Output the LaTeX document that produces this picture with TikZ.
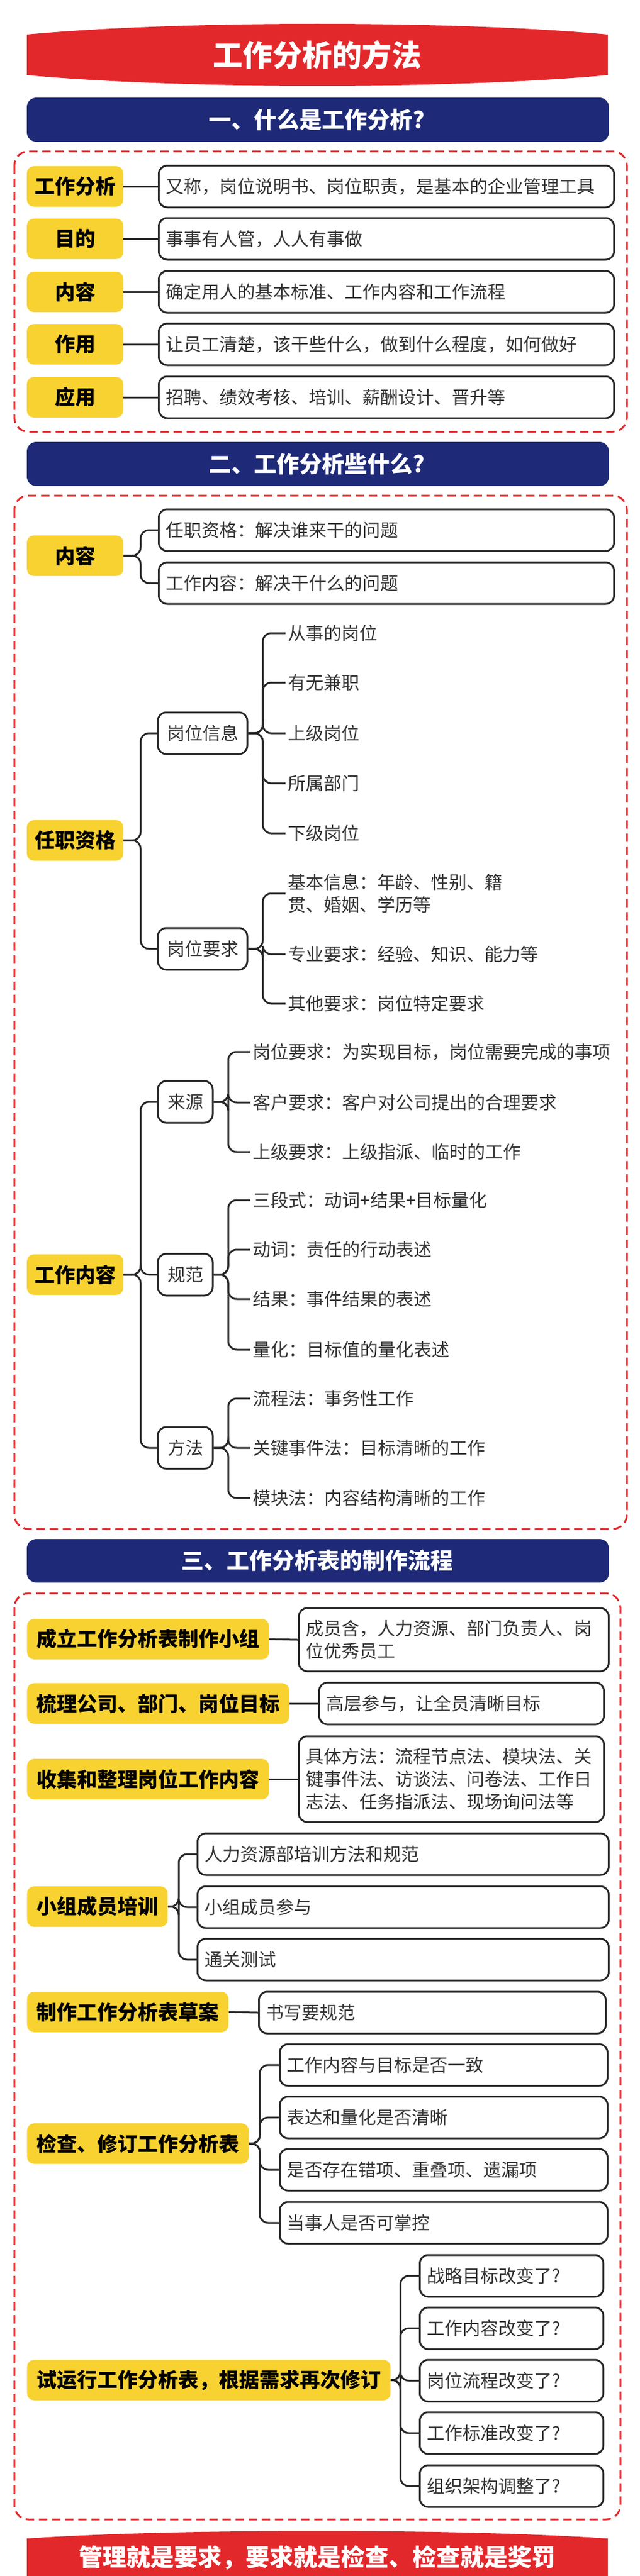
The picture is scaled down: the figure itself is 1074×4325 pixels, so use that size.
\documentclass[tikz,border=0pt]{standalone}
\usepackage{fontspec}
\setmainfont{Noto Sans CJK SC}
\usetikzlibrary{positioning}

\definecolor{bannerred}{HTML}{E3282C}
\definecolor{bannerblue}{HTML}{1E2A78}
\definecolor{tagyellow}{HTML}{F8D231}
\definecolor{inkgray}{HTML}{333333}

\tikzset{
  x=0.5pt, y=-0.5pt,
  banner/.style={font=\bfseries\fontsize{19pt}{23pt}\selectfont, text=white},
  tag/.style={fill=tagyellow, rounded corners=6pt, text=black,
    font=\bfseries\fontsize{17pt}{21pt}\selectfont, minimum height=34pt, inner xsep=8pt},
  wbox/.style={draw=black!85, line width=1.5pt, fill=white, rounded corners=7pt,
    anchor=west, align=left, text=inkgray, inner xsep=6pt, minimum height=35pt,
    font=\fontsize{15pt}{19pt}\selectfont},
  sbox/.style={wbox, anchor=center, align=center},
  leaf/.style={anchor=west, align=left, text=inkgray, inner xsep=2pt,
    font=\fontsize{15pt}{19pt}\selectfont},
  conn/.style={draw=black!85, line width=1.5pt, rounded corners=7pt},
  frame/.style={draw=bannerred, line width=1.5pt, dash pattern=on 7pt off 4pt,
    rounded corners=12pt}
}

\begin{document}
\begin{tikzpicture}
\useasboundingbox[fill=white] (0,0) rectangle (1074,4325);

% title banners
\fill[bannerred] (45,58) .. controls (300,34) and (765,34) .. (1020,58)
  -- (1020,126) .. controls (765,150) and (300,150) .. (45,126) -- cycle;
\node[banner, font=\bfseries\fontsize{25pt}{30pt}\selectfont] (title) at (532,92) {工作分析的方法};
\fill[bannerred] (45,4262) .. controls (300,4245) and (765,4245) .. (1020,4262)
  -- (1020,4340) -- (45,4340) -- cycle;
\node[banner, font=\bfseries\fontsize{20pt}{24pt}\selectfont] (motto) at (532,4294) {管理就是要求，要求就是检查、检查就是奖罚};

\fill[bannerblue, rounded corners=8pt] (45,164) rectangle (1022,238);
\node[banner] (sec1) at (532,201) {一、什么是工作分析?};
\fill[bannerblue, rounded corners=8pt] (45,742) rectangle (1022,816);
\node[banner] (sec2) at (532,779) {二、工作分析些什么?};
\fill[bannerblue, rounded corners=8pt] (45,2584) rectangle (1022,2657);
\node[banner] (sec3) at (532,2620) {三、工作分析表的制作流程};

\draw[frame] (24,254) rectangle (1052,725);
\draw[frame] (24,832) rectangle (1052,2567);
\draw[frame] (24,2675) rectangle (1041,4230);

% section 1
\foreach \t/\d/\y [count=\i] in {
    工作分析/又称，岗位说明书、岗位职责，是基本的企业管理工具/313,
    目的/事事有人管，人人有事做/401,
    内容/确定用人的基本标准、工作内容和工作流程/490,
    作用/让员工清楚，该干些什么，做到什么程度，如何做好/578,
    应用/招聘、绩效考核、培训、薪酬设计、晋升等/667} {
  \node[tag, minimum width=81pt, inner xsep=0pt] (q\i) at (126,\y) {\t};
  \node[wbox, minimum width=382pt, text width=370pt] (a\i) at (265,\y) {\d};
  \draw[conn] (q\i.east) -- (a\i.west);
}

% section 2
\coordinate (trunk) at (236,0);
\coordinate (twig) at (441,0);
\coordinate (twigb) at (383,0);
\node[tag, minimum width=81pt, inner xsep=0pt] (nr) at (126,933) {内容};
\node[wbox, minimum width=382pt, text width=370pt] (nr1) at (265,890) {任职资格：解决谁来干的问题};
\node[wbox, minimum width=382pt, text width=370pt] (nr2) at (265,979) {工作内容：解决干什么的问题};
\foreach \c in {nr1,nr2} \draw[conn] (nr.east) -- (nr.east -| trunk) |- (\c.west);

\node[tag, minimum width=81pt, inner xsep=0pt] (rz) at (126,1411) {任职资格};
\node[sbox, minimum width=75pt, inner xsep=0pt] (gx) at (340,1231) {岗位信息};
\node[sbox, minimum width=75pt, inner xsep=0pt] (gy) at (340,1593) {岗位要求};
\foreach \c in {gx,gy} \draw[conn] (rz.east) -- (rz.east -| trunk) |- (\c.west);
\foreach \t/\y [count=\i] in {从事的岗位/1063, 有无兼职/1146, 上级岗位/1231, 所属部门/1315, 下级岗位/1399} {
  \node[leaf] (gx\i) at (479,\y) {\t};
  \draw[conn] (gx.east) -- (gx.east -| twig) |- (gx\i.west);
}
\node[leaf] (gy1) at (479,1500) {基本信息：年龄、性别、籍\\贯、婚姻、学历等};
\node[leaf] (gy2) at (479,1602) {专业要求：经验、知识、能力等};
\node[leaf] (gy3) at (479,1685) {其他要求：岗位特定要求};
\foreach \c in {gy1,gy2,gy3} \draw[conn] (gy.east) -- (gy.east -| twig) |- (\c.west);

\node[tag, minimum width=81pt, inner xsep=0pt] (gn) at (126,2140) {工作内容};
\foreach \n/\t/\y in {ly/来源/1850, gf/规范/2140, ff/方法/2431} {
  \node[sbox, minimum width=46pt, inner xsep=0pt] (\n) at (311,\y) {\t};
  \draw[conn] (gn.east) -- (gn.east -| trunk) |- (\n.west);
}
\foreach \p/\t/\y [count=\i] in {
    ly/岗位要求：为实现目标，岗位需要完成的事项/1766,
    ly/客户要求：客户对公司提出的合理要求/1851,
    ly/上级要求：上级指派、临时的工作/1934,
    gf/三段式：动词+结果+目标量化/2015,
    gf/动词：责任的行动表述/2098,
    gf/结果：事件结果的表述/2181,
    gf/量化：目标值的量化表述/2266,
    ff/流程法：事务性工作/2348,
    ff/关键事件法：目标清晰的工作/2431,
    ff/模块法：内容结构清晰的工作/2515} {
  \node[leaf] (s\i) at (420,\y) {\t};
  \draw[conn] (\p.east) -- (\p.east -| twigb) |- (s\i.west);
}

% section 3
\node[tag, anchor=west] (p1) at (45,2752) {成立工作分析表制作小组};
\node[wbox, minimum width=260pt, text width=248pt, minimum height=53pt] (p1a) at (500,2753)
  {成员含，人力资源、部门负责人、岗\\位优秀员工};
\draw[conn] (p1.east) -- (p1a.west);

\node[tag, anchor=west] (p2) at (45,2860) {梳理公司、部门、岗位目标};
\node[wbox, minimum width=239pt, text width=227pt] (p2a) at (534,2860) {高层参与，让全员清晰目标};
\draw[conn] (p2.east) -- (p2a.west);

\node[tag, anchor=west] (p3) at (45,2987) {收集和整理岗位工作内容};
\node[wbox, minimum width=256pt, text width=244pt, minimum height=72pt] (p3a) at (500,2987)
  {具体方法：流程节点法、模块法、关\\键事件法、访谈法、问卷法、工作日\\志法、任务指派法、现场询问法等};
\draw[conn] (p3.east) -- (p3a.west);

\coordinate (fork4) at (300,0);
\node[tag, anchor=west] (p4) at (45,3201) {小组成员培训};
\foreach \t/\y [count=\i] in {人力资源部培训方法和规范/3113, 小组成员参与/3202, 通关测试/3290} {
  \node[wbox, minimum width=345pt, text width=333pt] (p4\i) at (330,\y) {\t};
  \draw[conn] (p4.east) -- (p4.east -| fork4) |- (p4\i.west);
}

\node[tag, anchor=west] (p5) at (45,3378) {制作工作分析表草案};
\node[wbox, minimum width=291pt, text width=279pt] (p5a) at (433,3379) {书写要规范};
\draw[conn] (p5.east) -- (p5a.west);

\coordinate (fork6) at (436,0);
\node[tag, anchor=west] (p6) at (45,3599) {检查、修订工作分析表};
\foreach \t/\y [count=\i] in {工作内容与目标是否一致/3467, 表达和量化是否清晰/3555,
    是否存在错项、重叠项、遗漏项/3643, 当事人是否可掌控/3732} {
  \node[wbox, minimum width=275pt, text width=263pt] (p6\i) at (468,\y) {\t};
  \draw[conn] (p6.east) -- (p6.east -| fork6) |- (p6\i.west);
}

\coordinate (fork7) at (672,0);
\node[tag, anchor=west] (p7) at (45,3996) {试运行工作分析表，根据需求再次修订};
\foreach \t/\y [count=\i] in {战略目标改变了?/3821, 工作内容改变了?/3909, 岗位流程改变了?/3997,
    工作标准改变了?/4085, 组织架构调整了?/4174} {
  \node[wbox, minimum width=154pt, text width=142pt] (p7\i) at (703,\y) {\t};
  \draw[conn] (p7.east) -- (p7.east -| fork7) |- (p7\i.west);
}
\end{tikzpicture}
\end{document}
